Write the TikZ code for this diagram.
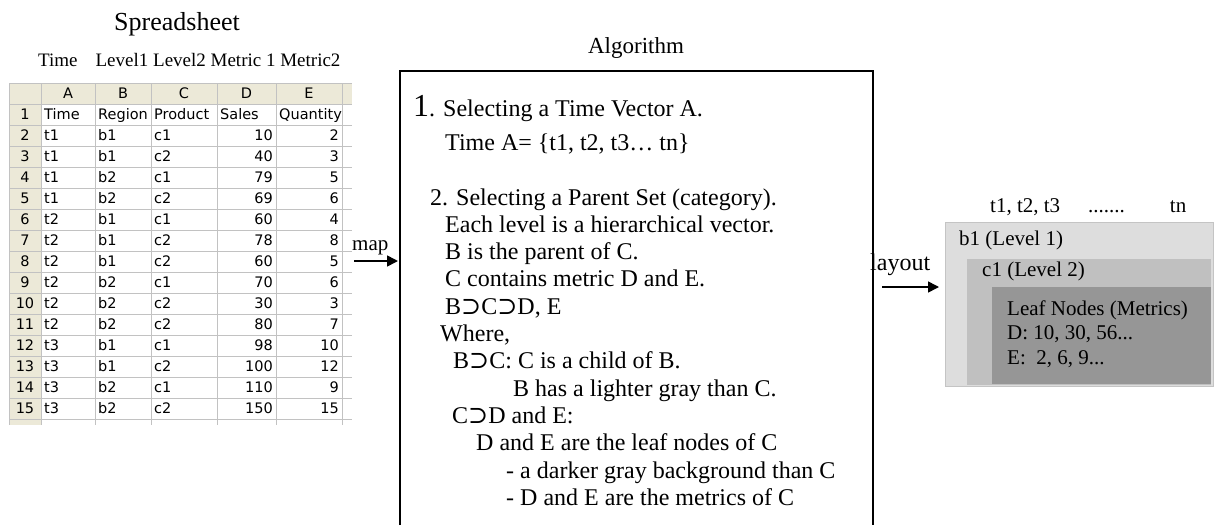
\documentclass[tikz,border=0pt]{standalone}
\usepackage{fontspec}
\setmainfont{Liberation Serif}
\newfontfamily\cellfont{DejaVu Sans}
\newfontfamily\supfont{DejaVu Serif}
\newcommand{\sset}{{\supfont ⊃}}
\usetikzlibrary{arrows.meta, positioning, calc}

\definecolor{xlbeige}{HTML}{ECE9D8}
\definecolor{xlgrid}{HTML}{C2C2C2}
\definecolor{lvlone}{HTML}{DDDDDD}
\definecolor{lvltwo}{HTML}{C0C0C0}
\definecolor{leafgray}{HTML}{969696}
\definecolor{lvledge}{HTML}{C4C4C4}

\begin{document}
\begin{tikzpicture}[x=1pt, y=-1pt,
  title/.style={font=\fontsize{26}{26}\selectfont, anchor=base, inner sep=0pt},
  algline/.style={font=\fontsize{24}{24}\selectfont, anchor=base west, inner sep=0pt},
  cell/.style={font=\cellfont\fontsize{14.5}{14.5}\selectfont, anchor=base west, inner sep=0pt},
  num/.style={cell, anchor=base east},
  hdr/.style={cell, anchor=base},
  lbl/.style={font=\fontsize{21}{21}\selectfont, anchor=base west, inner sep=0pt},
  tier/.style={anchor=north west, inner sep=0pt, draw=none},
  arr/.style={-{Triangle[length=11pt,width=11pt]}, line width=1.6pt}
]
  \useasboundingbox (0,0) rectangle (1214,525);

  % titles
  \node[title] (sstitle) at (177,30) {Spreadsheet};
  \node[title, font=\fontsize{23}{23}\selectfont] (algtitle) at (636,53) {Algorithm};
  \node[font=\fontsize{19}{19}\selectfont, anchor=base west, inner sep=0pt] (collbl)
    at (38,66) {Time\hspace{18pt}Level1 Level2 Metric 1 Metric2};

  % spreadsheet grid
  \fill[xlbeige] (9,83) rectangle (352,104);
  \fill[xlbeige] (9,83) rectangle (41,425);
  \foreach \r in {0,...,16}
    \draw[xlgrid] (9,83+21*\r) -- (352,83+21*\r);
  \foreach \x in {9,41,95,151,217,276,342}
    \draw[xlgrid] (\x,83) -- (\x,425);

  \foreach \col/\xc in {A/68,B/123,C/184,D/246.5,E/309}
    \node[hdr] (h\col) at (\xc,98.6) {\col};
  \foreach \r in {1,...,15}
    \node[hdr] (n\r) at (25,98.6+21*\r) {\r};

  \node[cell] (ta1) at (44,119.6)  {Time};
  \node[cell] (tb1) at (98,119.6)  {Region};
  \node[cell] (tc1) at (154,119.6) {Product};
  \node[cell] (td1) at (220,119.6) {Sales};
  \node[cell] (te1) at (279,119.6) {Quantity};

  \foreach \r/\t/\b/\c/\s/\q in {2/t1/b1/c1/10/2, 3/t1/b1/c2/40/3, 4/t1/b2/c1/79/5,
      5/t1/b2/c2/69/6, 6/t2/b1/c1/60/4, 7/t2/b1/c2/78/8, 8/t2/b1/c2/60/5,
      9/t2/b2/c1/70/6, 10/t2/b2/c2/30/3, 11/t2/b2/c2/80/7, 12/t3/b1/c1/98/10,
      13/t3/b1/c2/100/12, 14/t3/b2/c1/110/9, 15/t3/b2/c2/150/15} {
    \node[cell] (ta\r) at (44,98.6+21*\r)  {\t};
    \node[cell] (tb\r) at (98,98.6+21*\r)  {\b};
    \node[cell] (tc\r) at (154,98.6+21*\r) {\c};
    \node[num]  (td\r) at (273,98.6+21*\r) {\s};
    \node[num]  (te\r) at (339,98.6+21*\r) {\q};
  }

  % algorithm box
  \draw[line width=1.5pt] (400,525) |- (873,71) -- (873,525);
  \node[algline] (s1)  at (413,116)   {{\fontsize{32}{32}\selectfont 1}. Selecting a Time Vector A.};
  \node[algline] (s2)  at (445,150)   {Time A= \{t1, t2, t3… tn\}};
  \node[algline] (s4)  at (430,205)   {2. Selecting a Parent Set (category).};
  \node[algline] (s5)  at (445,232.3) {Each level is a hierarchical vector.};
  \node[algline] (s6)  at (445,259.6) {B is the parent of C.};
  \node[algline] (s7)  at (445,286.9) {C contains metric D and E.};
  \node[algline] (s8)  at (445,314.2) {B\sset C\sset D, E};
  \node[algline] (s9)  at (440,341.5) {Where,};
  \node[algline] (s10) at (453,368.8) {B\sset C: C is a child of B.};
  \node[algline] (s11) at (513,396.1) {B has a lighter gray than C.};
  \node[algline] (s12) at (452,423.4) {C\sset D and E:};
  \node[algline] (s13) at (476,450.7) {D and E are the leaf nodes of C};
  \node[algline] (s14) at (506,478)   {- a darker gray background than C};
  \node[algline] (s15) at (506,505.3) {- D and E are the metrics of C};

  % map arrow
  \node[lbl] (maplbl) at (352,250) {map};
  \coordinate (maptail) at (354,261);
  \coordinate (maphead) at (398,261);
  \draw[arr] (maptail) -- (maphead);

  % layout
  \node[font=\fontsize{24}{24}\selectfont, anchor=base west, inner sep=0pt] (laylbl)
    at (870,270) {layout};
  \node[lbl] (timeaxis) at (990,212) {t1, t2, t3\hspace{28pt}.......\hspace{45pt}tn};
  \node[tier, fill=lvlone, draw=lvledge, line width=1.2pt,
        minimum width=268pt, minimum height=164pt] (lvl1) at (945,222) {};
  \node[tier, fill=lvltwo, minimum width=244pt, minimum height=126pt] (lvl2) at (967,259) {};
  \node[tier, fill=leafgray, minimum width=219pt, minimum height=97pt] (leaf) at (992,287) {};
  \node[lbl] (b1lbl)  at (959,245) {b1 (Level 1)};
  \node[lbl] (c1lbl)  at (982,276) {c1 (Level 2)};
  \node[lbl] (leaf1)  at (1007,315) {Leaf Nodes (Metrics)};
  \node[lbl] (leaf2)  at (1007,339.5) {D: 10, 30, 56...};
  \node[lbl] (leaf3)  at (1007,364) {E:\ \ 2, 6, 9...};

  \coordinate (laytail) at (882,287);
  \draw[arr] (laytail) -- (laytail -| lvl1.west) [shorten >=6pt];
\end{tikzpicture}
\end{document}
